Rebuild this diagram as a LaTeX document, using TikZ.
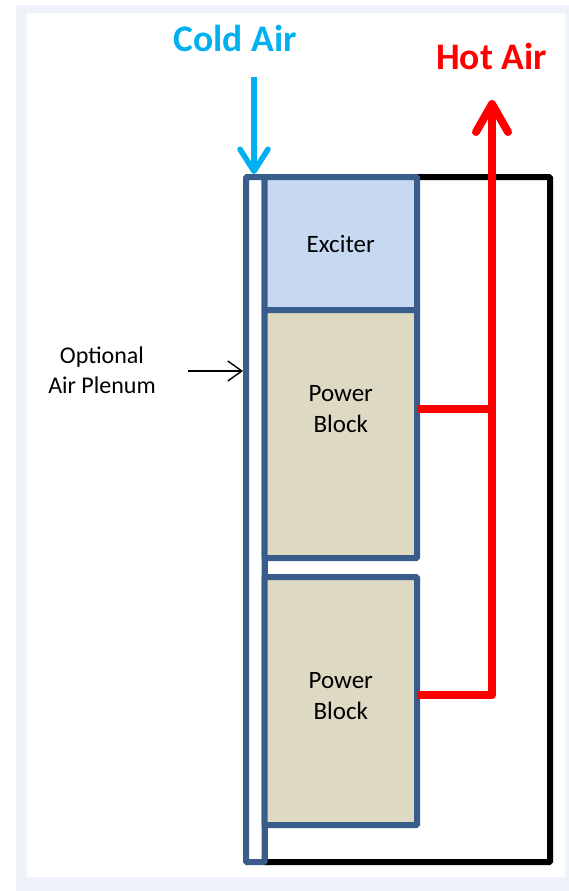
\documentclass[tikz,border=0pt]{standalone}
\usepackage{fontspec}
\setmainfont{Carlito}
\usepackage{tikz}
\usetikzlibrary{arrows.meta,positioning}

\definecolor{plenblue}{HTML}{385D8A}
\definecolor{excfill}{HTML}{C6D9F1}
\definecolor{pbfill}{HTML}{DDD9C3}
\definecolor{coldblue}{HTML}{00B0F0}
\definecolor{framebg}{HTML}{EEF2F9}

\tikzset{
  blkbox/.style={draw=plenblue, line width=6pt, outer sep=0pt, inner sep=0pt,
    minimum width=152.5pt, minimum height=248pt, rounded corners=1pt},
  housing/.style={draw=black, line width=6pt, outer sep=0pt, minimum width=285.5pt,
    minimum height=685pt, rounded corners=1pt},
  plenum/.style={draw=plenblue, fill=white, line width=6pt, outer sep=0pt,
    minimum width=18.5pt, minimum height=685pt, rounded corners=1pt},
  boxtxt/.style={align=center, inner sep=0pt, font=\fontsize{25}{31}\selectfont},
  airtxt/.style={inner sep=0pt, font=\fontsize{37.5}{45}\selectfont\bfseries},
  hotline/.style={draw=red, line width=8pt, line join=round},
}

\begin{document}
\begin{tikzpicture}[x=1pt,y=-1pt]
  \fill[framebg] (16,5) rectangle (569,891);
  \fill[white] (27,13) rectangle (565,877);
  \useasboundingbox (0,0) rectangle (569,891);

  \coordinate (c0) at (264.5,177);
  \node[housing, anchor=north west] (cab) at (c0) {};
  \node[plenum, anchor=north east] (plen) at (c0) {};
  \node[blkbox, fill=excfill, minimum height=133pt, anchor=north west, boxtxt] (exc) at (c0) {Exciter};
  \node[blkbox, fill=pbfill, below=0pt of exc] (pb1) {};
  \node[blkbox, fill=pbfill, below=19pt of pb1] (pb2) {};

  \node[boxtxt, anchor=base] (pb1txt) at (340.75,432) {Power\\Block};
  \node[boxtxt, anchor=base] (pb2txt) at (340.75,719) {Power\\Block};
  \node[boxtxt, font=\fontsize{24}{30}\selectfont, anchor=base] (optl) at (102,393) {Optional\\Air Plenum};

  \node[airtxt, text=coldblue, anchor=base] (cold) at (235,52) {Cold Air};
  \node[airtxt, text=red, anchor=base] (hot) at (491.5,70) {Hot Air};

  \coordinate (coldin) at (254,77);
  \draw[coldblue, line width=5.5pt, shorten >=3pt,
    -{Straight Barb[round, length=22pt, width=28pt]}] (coldin) -- (coldin |- plen.north);

  \coordinate (plenin) at (188,371);
  \draw[line width=1.4pt, shorten >=3pt,
    -{Straight Barb[length=14pt, width=20pt]}] (plenin) -- (plenin -| plen.west);

  \coordinate (hottop) at (492,100);
  \coordinate (j1) at (492,409);
  \coordinate (j2) at (492,695);
  \draw[hotline] (pb1.east |- j1) -- (j1);
  \draw[hotline, -{Straight Barb[round, length=28pt, width=32pt]}]
    (pb2.east |- j2) -- (j2) -- (hottop);
\end{tikzpicture}
\end{document}
